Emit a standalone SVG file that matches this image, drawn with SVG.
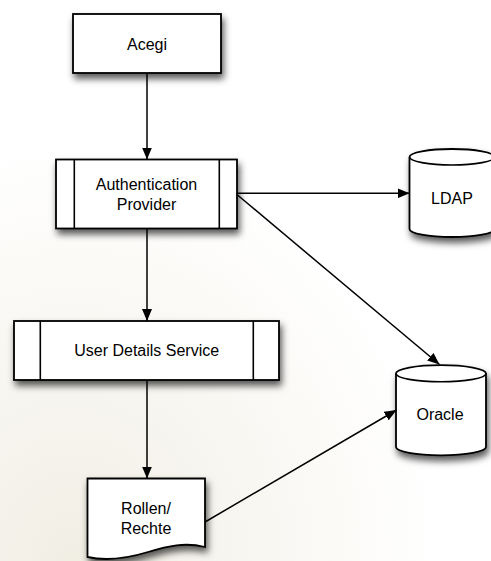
<svg xmlns="http://www.w3.org/2000/svg" width="491" height="561" viewBox="0 0 491 561">
<defs>
<filter id="sh" x="-20%" y="-20%" width="150%" height="160%">
<feDropShadow dx="2" dy="5" stdDeviation="3.5" flood-color="#000" flood-opacity="0.65"/>
</filter>
<marker id="ah" viewBox="0 0 12 10" refX="12" refY="5" markerWidth="12" markerHeight="10" markerUnits="userSpaceOnUse" orient="auto">
<path d="M0,0 L12,5 L0,10 Z" fill="#000"/>
</marker>
<radialGradient id="bg" cx="0.15" cy="1" r="0.75">
<stop offset="0" stop-color="#f1eee4"/>
<stop offset="1" stop-color="#ffffff"/>
</radialGradient>
<style>
.n{fill:#fff;stroke:#000;stroke-width:1.8;filter:url(#sh)}
.l{fill:none;stroke:#000;stroke-width:1.6}
.t{font-family:"Liberation Sans",Arial,sans-serif;font-size:16px;fill:#000;text-anchor:middle}
.c{fill:none;stroke:#000;stroke-width:1.5;marker-end:url(#ah)}
</style>
</defs>
<rect width="491" height="561" fill="url(#bg)"/>
<g id="acegi">
<rect class="n" x="73" y="14" width="148" height="59"/>
<text class="t" x="147" y="49.5">Acegi</text>
</g>
<g id="auth-provider">
<rect class="n" x="56" y="159.5" width="181" height="69"/>
<line class="l" x1="74.3" y1="159.5" x2="74.3" y2="228.5"/>
<line class="l" x1="219.3" y1="159.5" x2="219.3" y2="228.5"/>
<text class="t" x="146.5" y="189.5">Authentication</text>
<text class="t" x="146.5" y="210">Provider</text>
</g>
<g id="user-details-service">
<rect class="n" x="14" y="321" width="265" height="59"/>
<line class="l" x1="40.3" y1="321" x2="40.3" y2="380"/>
<line class="l" x1="253.3" y1="321" x2="253.3" y2="380"/>
<text class="t" x="146.7" y="356">User Details Service</text>
</g>
<g id="ldap">
<path class="n" d="M409.5,157 A42.5,8 0 0 1 494.5,157 V229 A42.5,8 0 0 1 409.5,229 Z"/>
<path class="l" d="M409.5,157 A42.5,8 0 0 0 494.5,157"/>
<text class="t" x="452" y="204">LDAP</text>
</g>
<g id="oracle">
<path class="n" d="M396,373.5 A45,8.3 0 0 1 486,373.5 V447 A45,8.3 0 0 1 396,447 Z"/>
<path class="l" d="M396,373.5 A45,8.3 0 0 0 486,373.5"/>
<text class="t" x="440" y="420">Oracle</text>
</g>
<g id="rollen-rechte">
<path class="n" d="M87.5,478.5 H205 V547 C185,542 168,546 148,552 C125,559 105,561 87.5,557 Z"/>
<text class="t" x="146" y="514.3">Rollen/</text>
<text class="t" x="146" y="534">Rechte</text>
</g>
<g id="connectors">
<line class="c" x1="147" y1="73" x2="147" y2="159.5"/>
<line class="c" x1="147" y1="228.5" x2="147" y2="321"/>
<line class="c" x1="147" y1="380" x2="147" y2="478.5"/>
<line class="c" x1="237" y1="193.3" x2="409.5" y2="193.3"/>
<line class="c" x1="237.5" y1="195" x2="439.5" y2="364.5"/>
<line class="c" x1="205" y1="522" x2="396.5" y2="410"/>
</g>
</svg>
